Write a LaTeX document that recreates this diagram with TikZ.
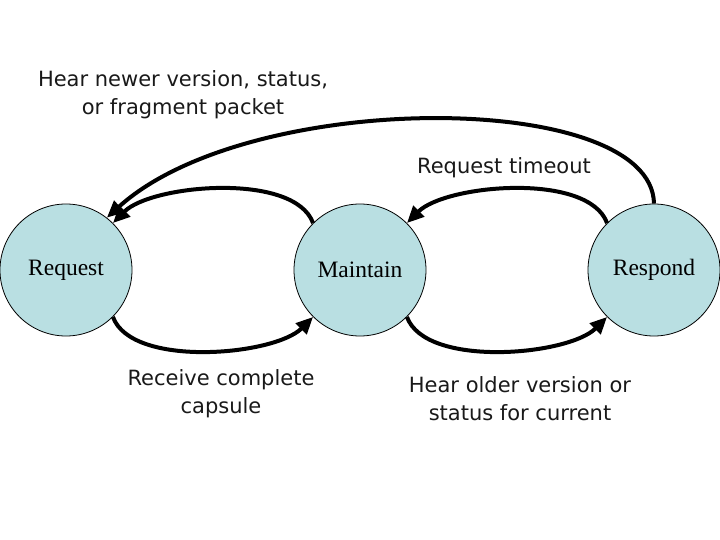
\documentclass[tikz,border=0pt]{standalone}
\usepackage{fontspec}
\setmainfont{Liberation Serif}
\newfontfamily\lblfont{DejaVu Sans}
\usetikzlibrary{arrows.meta}
\definecolor{statefill}{HTML}{B9DFE2}
\tikzset{
  state/.style={circle, draw=black, line width=0.8pt, fill=statefill, minimum size=132pt, inner sep=0pt, font=\fontsize{23.5}{26}\selectfont},
  trans/.style={line width=4pt, -{Triangle[length=17pt,width=15pt]}},
  lbl/.style={font=\lblfont\fontsize{21}{28}\selectfont, align=center, text=black!90}
}
\begin{document}
\begin{tikzpicture}[x=1pt,y=-1pt]
\useasboundingbox (0,0) rectangle (720,540);
\node[state] (req) at (66,270) {Request};
\node[state] (mnt) at (360,270) {Maintain};
\node[state] (rsp) at (654,270) {Respond};
\draw[trans] (req.-45) to[out=-70,in=-135,looseness=0.7] (mnt.-135);
\draw[trans] (mnt.135) to[out=110,in=45,looseness=0.7] (req.45);
\draw[trans] (mnt.-45) to[out=-70,in=-135,looseness=0.7] (rsp.-135);
\draw[trans] (rsp.135) to[out=110,in=45,looseness=0.7] (mnt.45);
\coordinate (c1) at (652,90);
\coordinate (c2) at (250,88);
\draw[trans] (rsp.90) .. controls (c1) and (c2) .. (req.52);
\node[lbl] (l1) at (183,95) {Hear newer version, status,\\or fragment packet};
\node[lbl] (l2) at (504,168) {Request timeout};
\node[lbl] (l3) at (221,394) {Receive complete\\capsule};
\node[lbl] (l4) at (520,399) {Hear older version or\\status for current};
\end{tikzpicture}
\end{document}
